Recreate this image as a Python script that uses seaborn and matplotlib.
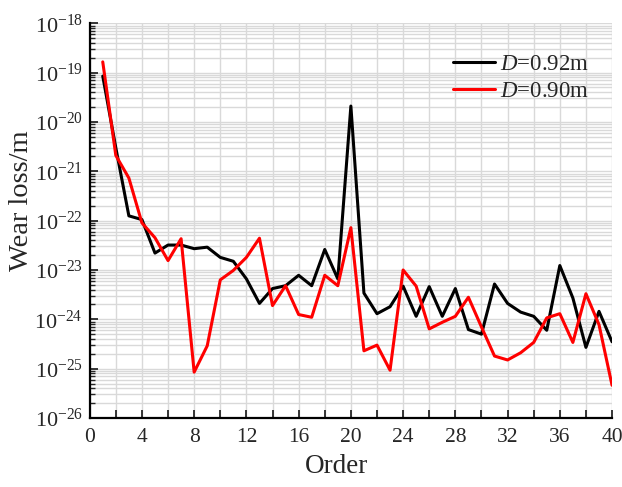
import numpy as np
import pandas as pd
import matplotlib
matplotlib.use("Agg")
import matplotlib.pyplot as plt
import matplotlib.ticker as mticker
import seaborn as sns

order = list(range(1, 41))
wear_092 = [8.5e-20, 3.0e-21, 1.25e-22, 1.05e-22, 2.2e-23, 3.2e-23, 3.2e-23, 2.7e-23, 2.9e-23, 1.8e-23,
            1.5e-23, 6.6e-24, 2.1e-24, 4.2e-24, 4.8e-24, 7.8e-24, 4.8e-24, 2.6e-23, 6.6e-24, 2.1e-20,
            3.4e-24, 1.3e-24, 1.8e-24, 4.7e-24, 1.15e-24, 4.6e-24, 1.15e-24, 4.2e-24, 6.2e-25, 5.0e-25,
            5.2e-24, 2.1e-24, 1.4e-24, 1.15e-24, 6.0e-25, 1.23e-23, 2.7e-24, 2.7e-25, 1.45e-24, 3.5e-25]
wear_090 = [1.65e-19, 2.1e-21, 7.3e-22, 9.0e-23, 4.5e-23, 1.55e-23, 4.3e-23, 8.5e-26, 2.9e-25, 6.3e-24,
            9.8e-24, 1.8e-23, 4.4e-23, 1.9e-24, 4.8e-24, 1.25e-24, 1.1e-24, 7.8e-24, 4.8e-24, 7.2e-23,
            2.3e-25, 3.0e-25, 9.3e-26, 1.0e-23, 4.7e-24, 6.4e-25, 8.7e-25, 1.15e-24, 2.8e-24, 7.0e-25,
            1.8e-25, 1.5e-25, 2.1e-25, 3.4e-25, 1.07e-24, 1.3e-24, 3.4e-25, 3.3e-24, 7.8e-25, 4.6e-26]
labels = ["$D$=0.92m", "$D$=0.90m"]
colors = ["#000000", "#ff0000"]

df = pd.DataFrame({
    "Order": order * 2,
    "Wear": wear_092 + wear_090,
    "Series": [labels[0]] * len(order) + [labels[1]] * len(order),
})

sns.set_style("ticks")
plt.rcParams["font.family"] = ["Liberation Serif", "DejaVu Serif"]
plt.rcParams["mathtext.fontset"] = "custom"
plt.rcParams["mathtext.rm"] = "Liberation Serif"
plt.rcParams["mathtext.it"] = "Liberation Serif:italic"
plt.rcParams["mathtext.bf"] = "Liberation Serif:bold"
plt.rcParams["axes.unicode_minus"] = False

fig = plt.figure(figsize=(6.22, 4.87), dpi=100)
ax = fig.add_axes([0.1442, 0.1417, 0.8398, 0.8105])

sns.lineplot(data=df, x="Order", y="Wear", hue="Series", palette=colors,
             linewidth=2.2, ax=ax, legend=True, zorder=3)

ax.set_yscale("log")
ax.set_xlim(0, 40)
ax.set_ylim(1e-26, 1e-18)

ax.xaxis.set_major_locator(mticker.MultipleLocator(4))
ax.xaxis.set_minor_locator(mticker.MultipleLocator(2))
ax.yaxis.set_major_locator(mticker.LogLocator(base=10, numticks=20))
ax.yaxis.set_minor_locator(mticker.LogLocator(base=10, subs=np.arange(2, 10), numticks=20))
ax.yaxis.set_minor_formatter(mticker.NullFormatter())

ax.grid(which="both", axis="both", color="#d9d9d9", linewidth=1.0, zorder=0)
ax.set_axisbelow(True)

for s in ["top", "right"]:
    ax.spines[s].set_visible(False)
for s in ["left", "bottom"]:
    ax.spines[s].set_linewidth(1.6)
    ax.spines[s].set_color("black")
    ax.spines[s].set_zorder(4)

ax.tick_params(axis="x", which="both", direction="in", length=6, width=1.3, labelsize=15.5, pad=7)
ax.tick_params(axis="y", which="major", direction="in", length=5.5, width=1.3, labelsize=16, pad=5)
ax.tick_params(axis="y", which="minor", direction="in", length=3.5, width=1.0)

ax.set_xlabel("Order", fontsize=19.5)
ax.set_ylabel("Wear loss/m", fontsize=20.5)
ax.xaxis.set_label_coords(0.4716, -0.091)
ax.yaxis.set_label_coords(-0.107, 0.55)

handles, labs = ax.get_legend_handles_labels()
ax.legend(handles, labs, loc="upper left", bbox_to_anchor=(0.696, 0.922),
          frameon=False, fontsize=16.5, handlelength=1.8, handletextpad=0.25,
          labelspacing=0.25, borderpad=0, borderaxespad=0)

fig.savefig("out.png", dpi=100)
